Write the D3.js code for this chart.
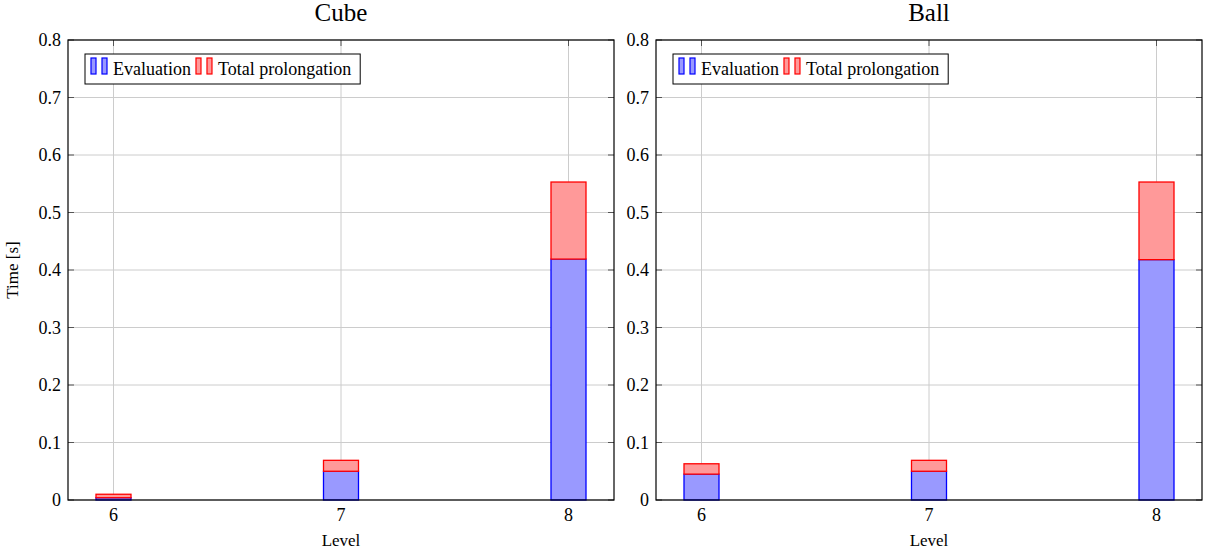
<!DOCTYPE html>
<html>
<head>
<meta charset="utf-8">
<script src="https://cdn.jsdelivr.net/npm/d3@7"></script>
<style>
  body { margin: 0; background: #fff; }
  svg { display: block; }
</style>
</head>
<body>
<svg id="chart" width="1206" height="551"></svg>
<script>
// ---- data ----
const levels = [6, 7, 8];
const panels = ["Cube", "Ball"];
const cubeEvaluation = [0.004, 0.050, 0.419];
const cubeProlongation = [0.006, 0.019, 0.134];
const ballEvaluation = [0.045, 0.050, 0.418];
const ballProlongation = [0.018, 0.019, 0.135];
const yTicks = [0, 0.1, 0.2, 0.3, 0.4, 0.5, 0.6, 0.7, 0.8];
const yTickLabels = ["0", "0.1", "0.2", "0.3", "0.4", "0.5", "0.6", "0.7", "0.8"];
const seriesNames = ["Evaluation", "Total prolongation"];

const seriesData = {
  Cube: [cubeEvaluation, cubeProlongation],
  Ball: [ballEvaluation, ballProlongation]
};
const fills = ["#9999ff", "#ff9999"];
const strokes = ["#0000ff", "#ff0000"];
const FONT = "Liberation Serif";

const svg = d3.select("#chart");
const plotW = 546, plotH = 460, plotTop = 40;
const lefts = [68, 656];

panels.forEach((name, pi) => {
  const left = lefts[pi];
  const g = svg.append("g").attr("transform", `translate(${left},${plotTop})`)
    .style("font-family", FONT);
  const x = d3.scaleLinear().domain([5.8, 8.2]).range([0, plotW]);
  const y = d3.scaleLinear().domain([0, 0.8]).range([plotH, 0]);

  // grid
  g.append("g").selectAll("line").data(yTicks).join("line")
    .attr("x1", 0).attr("x2", plotW)
    .attr("y1", d => y(d)).attr("y2", d => y(d))
    .attr("stroke", "#cccccc").attr("stroke-width", 1);
  g.append("g").selectAll("line").data(levels).join("line")
    .attr("y1", 0).attr("y2", plotH)
    .attr("x1", d => x(d)).attr("x2", d => x(d))
    .attr("stroke", "#cccccc").attr("stroke-width", 1);

  // inward ticks
  const tl = 6;
  const tickG = g.append("g").attr("stroke", "#555").attr("stroke-width", 1);
  yTicks.forEach(t => {
    tickG.append("line").attr("x1", 0).attr("x2", tl).attr("y1", y(t)).attr("y2", y(t));
    tickG.append("line").attr("x1", plotW - tl).attr("x2", plotW).attr("y1", y(t)).attr("y2", y(t));
  });
  levels.forEach(t => {
    tickG.append("line").attr("y1", plotH).attr("y2", plotH - tl).attr("x1", x(t)).attr("x2", x(t));
    tickG.append("line").attr("y1", 0).attr("y2", tl).attr("x1", x(t)).attr("x2", x(t));
  });

  // stacked bars
  const [ev, pr] = seriesData[name];
  const bw = 35;
  const stacked = levels.map((lv, i) => ({ lv, parts: [[0, ev[i]], [ev[i], ev[i] + pr[i]]] }));
  stacked.forEach(d => {
    d.parts.forEach((p, si) => {
      g.append("rect")
        .attr("x", x(d.lv) - bw / 2)
        .attr("width", bw)
        .attr("y", y(p[1]))
        .attr("height", y(p[0]) - y(p[1]))
        .attr("fill", fills[si])
        .attr("stroke", strokes[si])
        .attr("stroke-width", 1.3);
    });
  });

  // frame
  g.append("rect").attr("x", 0).attr("y", 0).attr("width", plotW).attr("height", plotH)
    .attr("fill", "none").attr("stroke", "#000").attr("stroke-width", 1.2);

  // tick labels
  g.append("g").selectAll("text").data(yTicks).join("text")
    .attr("x", -7).attr("y", d => y(d)).attr("dy", "0.35em")
    .attr("text-anchor", "end").style("font-size", "18px")
    .text((d, i) => yTickLabels[i]);
  g.append("g").selectAll("text").data(levels).join("text")
    .attr("x", d => x(d)).attr("y", plotH + 21)
    .attr("text-anchor", "middle").style("font-size", "18px")
    .text(d => d);

  // axis labels
  g.append("text").attr("x", plotW / 2).attr("y", plotH + 46)
    .attr("text-anchor", "middle").style("font-size", "17px").text("Level");
  if (pi === 0) {
    g.append("text").attr("transform", `translate(${-50},${plotH / 2}) rotate(-90)`)
      .attr("text-anchor", "middle").style("font-size", "17px").text("Time [s]");
  }
  // title
  g.append("text").attr("x", plotW / 2).attr("y", -19)
    .attr("text-anchor", "middle").style("font-size", "25px").text(name);

  // legend
  const lg = g.append("g").attr("transform", "translate(17,14)");
  const lbox = lg.append("rect").attr("x", 0).attr("y", 0).attr("height", 30)
    .attr("fill", "#fff").attr("stroke", "#000").attr("stroke-width", 1);
  let cx = 6;
  seriesNames.forEach((s, si) => {
    [0, 11].forEach(off => {
      lg.append("rect").attr("x", cx + off).attr("y", 4).attr("width", 5).attr("height", 16)
        .attr("fill", fills[si]).attr("stroke", strokes[si]).attr("stroke-width", 1.2);
    });
    const t = lg.append("text").attr("x", cx + 22).attr("y", 21).style("font-size", "18px").text(s);
    cx += 22 + t.node().getComputedTextLength() + 5;
  });
  lbox.attr("width", cx + 4);
});
</script>
</body>
</html>
